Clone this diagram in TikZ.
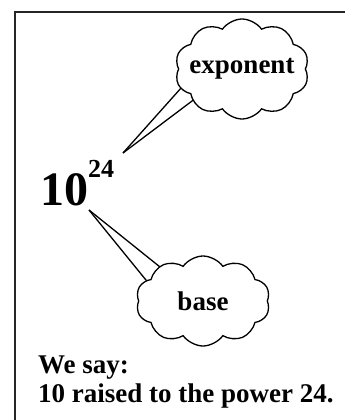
\documentclass[tikz,border=0pt]{standalone}
\usepackage{fontspec}
\setmainfont{Liberation Serif}
\usetikzlibrary{shapes.symbols}

\begin{document}
\begin{tikzpicture}
[x=1pt,y=-1pt,
  lineDecorate/.style={-,line width=1.3pt},%
  cloudDecorate/.style={shape=cloud,cloud puffs=10,cloud puff arc=110,
    cloud ignores aspect,
    draw,line width=1.3pt,fill=white,inner sep=0pt,
    label={[font=\fontsize{27}{27}\selectfont\bfseries]center:#1}},%
  textDecorate/.style={inner sep=0pt,align=left,
    font=\fontsize{27}{29}\selectfont\bfseries}]
\useasboundingbox (0,0) rectangle (345,420);
%% frame
\draw[line width=2pt,black!85] (14.5,420) -- (14.5,12.5) -- (345,12.5);
%% the number
\node (num) at (40,205) [anchor=base west,inner sep=0pt,
  font=\fontsize{48}{48}\selectfont\bfseries]
  {10\raisebox{28pt}{\fontsize{26}{26}\selectfont 24}};
%% tips and cloud ends
\foreach \pname/\x/\y in {
  exptip/123/153, expA/190/78, expB/200/95,
  basetip/89/210, baseA/150/285, baseB/170/275}
{
  \coordinate (\pname) at (\x,\y);
}
%% lines
\path
\foreach \startnode/\endnode in {
  exptip/expA, exptip/expB, basetip/baseA, basetip/baseB}
{
  (\startnode) edge[lineDecorate] (\endnode)
};
%% clouds
\node (exp) at (242,69) [cloudDecorate=exponent,minimum width=134pt,minimum height=100pt] {};
\node (base) at (203,301) [cloudDecorate=base,minimum width=134pt,minimum height=90pt] {};
%% caption
\node (say) at (38,402) [textDecorate,anchor=base west]
  {We say:\\10 raised to the power 24.};
\end{tikzpicture}
\end{document}
